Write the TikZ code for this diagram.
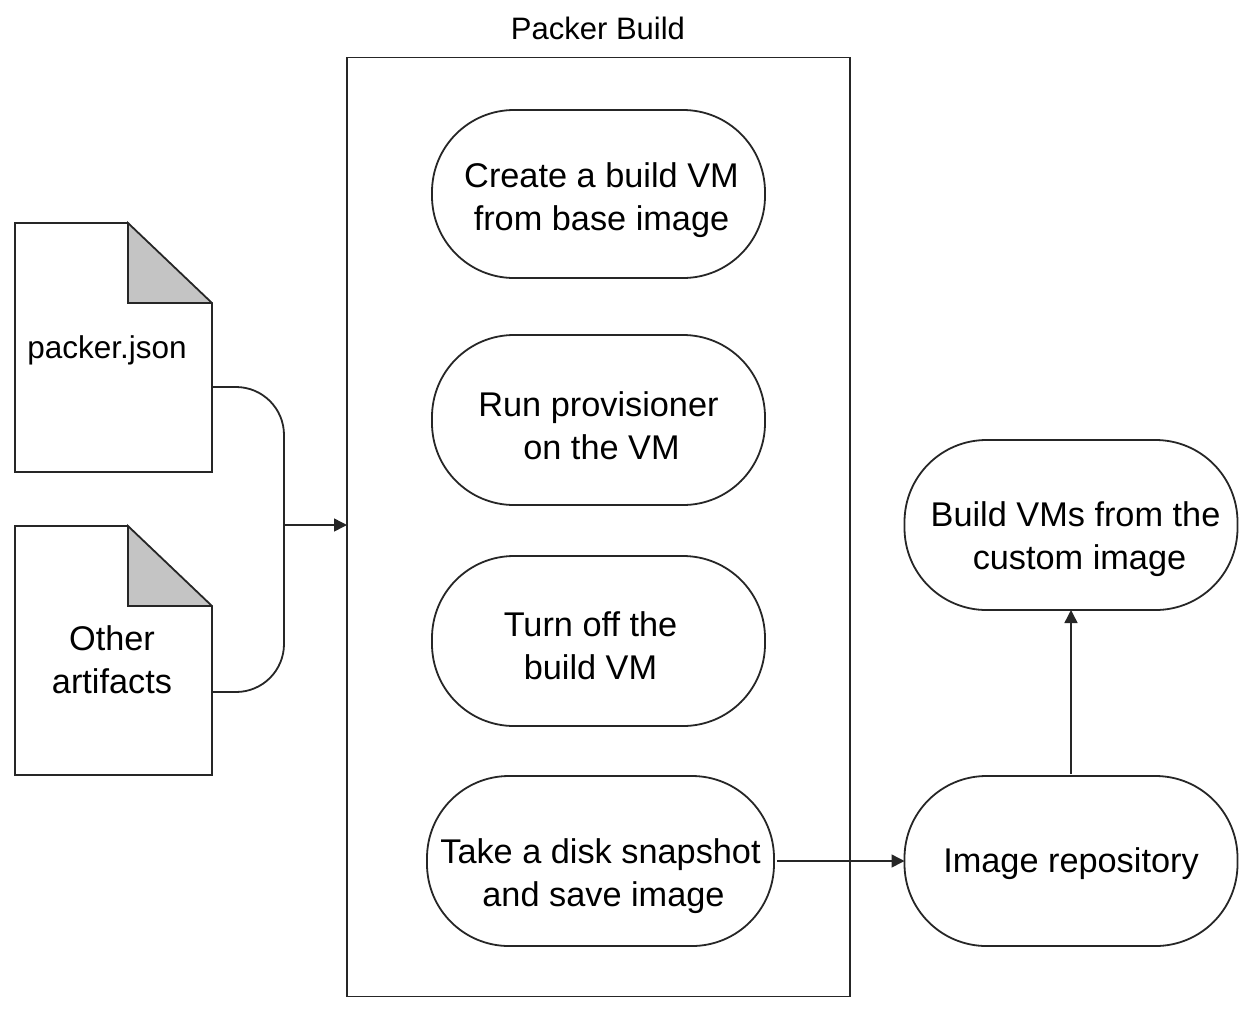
\documentclass[tikz,border=0pt]{standalone}
\usepackage{fontspec}
\setmainfont{Liberation Sans}
\usepackage{xcolor}
\usetikzlibrary{positioning, arrows.meta}
\definecolor{foldgray}{HTML}{C4C4C4}
\definecolor{linedark}{HTML}{262626}
\tikzset{
  stepbox/.style={draw=linedark, line width=1.8pt, rounded corners=82pt, minimum height=170pt,
    minimum width=333pt, align=center, inner sep=0pt, outer sep=0pt},
  filebox/.style={minimum width=197pt, minimum height=249pt, inner sep=0pt, outer sep=0pt},
  flow/.style={draw=linedark, line width=1.5pt, -{Triangle[length=13pt,width=13pt]}},
  plainline/.style={draw=linedark, line width=1.8pt},
  txt/.style={align=center, inner sep=0pt, text=black}
}
\newcommand{\toppad}[1]{\rule{0pt}{#1}}
\newcommand{\filedoc}[1]{%
  \fill[foldgray] ([xshift=-84pt]#1.north east) -- ([xshift=-84pt,yshift=-80pt]#1.north east) -- ([yshift=-80pt]#1.north east) -- cycle;
  \draw[plainline, line join=miter] ([xshift=-84pt]#1.north east) -- (#1.north west) -- (#1.south west) -- (#1.south east) -- ([yshift=-80pt]#1.north east) -- ([xshift=-84pt]#1.north east) -- ([xshift=-84pt,yshift=-80pt]#1.north east) -- ([yshift=-80pt]#1.north east);}
\begin{document}
\begin{tikzpicture}[x=1pt, y=-1pt, font=\fontsize{34.3}{43}\selectfont]
  \useasboundingbox (0,0) rectangle (1256,1013);
  % packer box
  \node[draw=linedark, line width=1.8pt, minimum width=503pt, minimum height=939pt, inner sep=0pt, outer sep=0pt] (build) at (598.5,527) {};
  \node[txt, font=\fontsize{31}{36}\selectfont] (buildtitle) at (598,28) {Packer Build};
  \node[stepbox, minimum height=168pt] (create) at (598.5,194) {\toppad{37pt}\hspace*{6pt}Create a build VM\\\hspace*{6pt}from base image};
  \node[stepbox] (provision) at (598.5,420) {\toppad{37pt}Run provisioner\\\hspace*{6pt}on the VM};
  \node[stepbox] (turnoff) at (598.5,641) {\toppad{35pt}Turn off the\hspace*{16pt}\\build VM\hspace*{16pt}};
  \node[stepbox, minimum width=347pt] (snapshot) at (600.5,861) {\toppad{55pt}Take a disk snapshot\\\hspace*{6pt}and save image};
  \node[stepbox] (repo) at (1071,861) {\toppad{31pt}Image repository};
  \node[stepbox] (custom) at (1071,525) {\toppad{53pt}\hspace*{9pt}Build VMs from the\\\hspace*{17pt}custom image};
  % files
  \node[filebox] (packer) at (113.5,347.5) {};
  \node[filebox] (other) at (113.5,650.5) {};
  \filedoc{packer}
  \filedoc{other}
  \node[txt, font=\fontsize{31.5}{40}\selectfont] (packerlabel) at (107,350) {packer.json};
  \node[txt] (otherlabel) at (112,660) {Other\\artifacts};
  % connectors
  \coordinate (packerout) at (212,387);
  \coordinate (otherout) at (212,692);
  \coordinate (join) at (284,525);
  \draw[plainline, rounded corners=48pt] (packerout) -- (284,387) -- (284,692) -- (otherout);
  \draw[flow] (join) -- (join -| build.west);
  \draw[flow] ([xshift=3pt]snapshot.east) -- (repo.west);
  \draw[flow] ([yshift=2pt]repo.north) -- (custom.south);
\end{tikzpicture}
\end{document}
